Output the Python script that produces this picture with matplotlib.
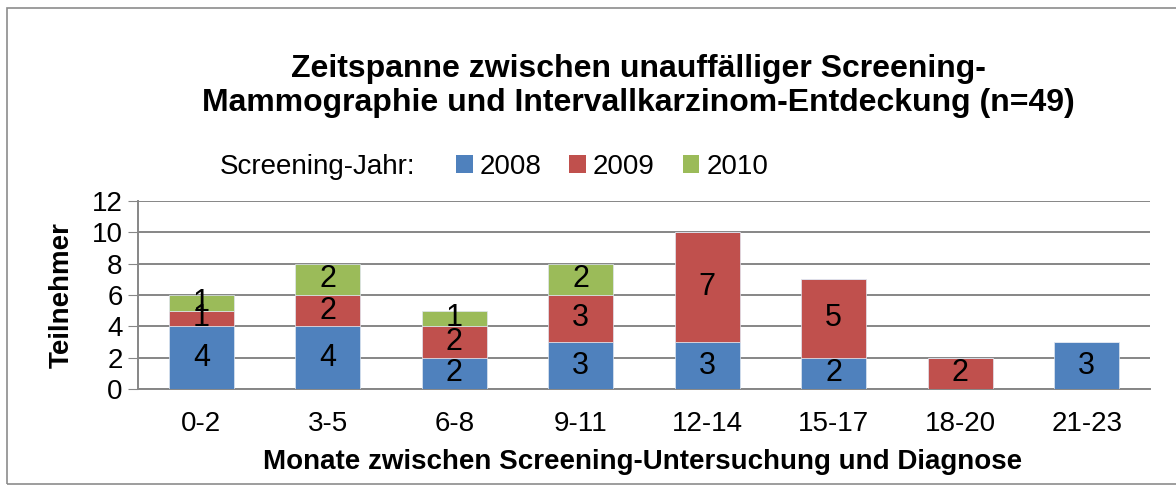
import matplotlib.pyplot as plt
import numpy as np
from matplotlib.patches import Rectangle, Patch

# ======================
# DATA
# ======================
categories = ["0-2", "3-5", "6-8", "9-11", "12-14", "15-17", "18-20", "21-23"]
years = ["2008", "2009", "2010"]
vals_2008 = [4, 4, 2, 3, 3, 2, 0, 3]
vals_2009 = [1, 2, 2, 3, 7, 5, 2, 0]
vals_2010 = [1, 2, 1, 2, 0, 0, 0, 0]
y_ticks = [0, 2, 4, 6, 8, 10, 12]

colors = ["#4F81BD", "#C0504D", "#9BBB59"]

plt.rcParams['font.family'] = ['Liberation Sans', 'DejaVu Sans']

# ======================
# FIGURE
# ======================
W, H = 1176, 486
fig = plt.figure(figsize=(W / 100, H / 100), dpi=100)
ax = fig.add_axes([138 / W, 1 - 389 / H, (1150 - 138) / W, (389 - 201) / H])

# outer chart border
fig.patches.append(Rectangle((7 / W, 1 - 484 / H), 1.2, (484 - 8) / H,
                             transform=fig.transFigure, fill=False,
                             edgecolor="#8c8c8c", linewidth=1.2))

x = np.arange(len(categories))
bottom = np.zeros(len(categories))
for vals, col in zip([vals_2008, vals_2009, vals_2010], colors):
    vals = np.array(vals)
    ax.bar(x, vals, width=0.51, bottom=bottom, color=col,
           edgecolor="#dfe6f0", linewidth=0.5, zorder=3)
    for xi, v, b in zip(x, vals, bottom):
        if v > 0:
            ax.text(xi, b + v / 2, str(v), ha="center", va="center",
                    fontsize=22, color="black", zorder=4)
    bottom += vals

# ======================
# AXES
# ======================
ax.set_xlim(-0.5, len(categories) - 0.5)
ax.set_ylim(0, 12)
ax.set_yticks(y_ticks)
ax.set_xticks(x)
ax.set_xticklabels(categories, fontsize=20)
ax.tick_params(axis="y", labelsize=20, length=7, color="#868686", pad=4)
ax.tick_params(axis="x", length=0, pad=16)
ax.yaxis.grid(True, color="#868686", linewidth=1.4, zorder=0)
ax.set_axisbelow(True)
for s in ["top", "right"]:
    ax.spines[s].set_visible(False)
ax.spines["left"].set_color("#868686")
ax.spines["left"].set_linewidth(1.4)
ax.spines["bottom"].set_color("#868686")
ax.spines["bottom"].set_linewidth(1.4)

fig.text(62 / W, 1 - 295 / H, "Teilnehmer", rotation=90, ha="center",
         va="center", fontsize=20, fontweight="bold")
fig.text(643 / W, 1 - 462 / H,
         "Monate zwischen Screening-Untersuchung und Diagnose",
         ha="center", va="center", fontsize=20, fontweight="bold")

# ======================
# TITLE + LEGEND
# ======================
fig.text(638 / W, 1 - 86 / H,
         "Zeitspanne zwischen unauffälliger Screening-\n"
         "Mammographie und Intervallkarzinom-Entdeckung (n=49)",
         ha="center", va="center", fontsize=23, fontweight="bold",
         linespacing=1.15)

fig.text(318 / W, 1 - 167 / H, "Screening-Jahr:", ha="center", va="center",
         fontsize=20)
handles = [Patch(facecolor=c, edgecolor="none") for c in colors]
fig.legend(handles, years, loc="center", bbox_to_anchor=(612 / W, 1 - 167 / H),
           ncol=3, frameon=False, fontsize=20, handlelength=0.6,
           handleheight=0.6, handletextpad=0.25, columnspacing=1.0)

fig.savefig("out.png", dpi=100)
